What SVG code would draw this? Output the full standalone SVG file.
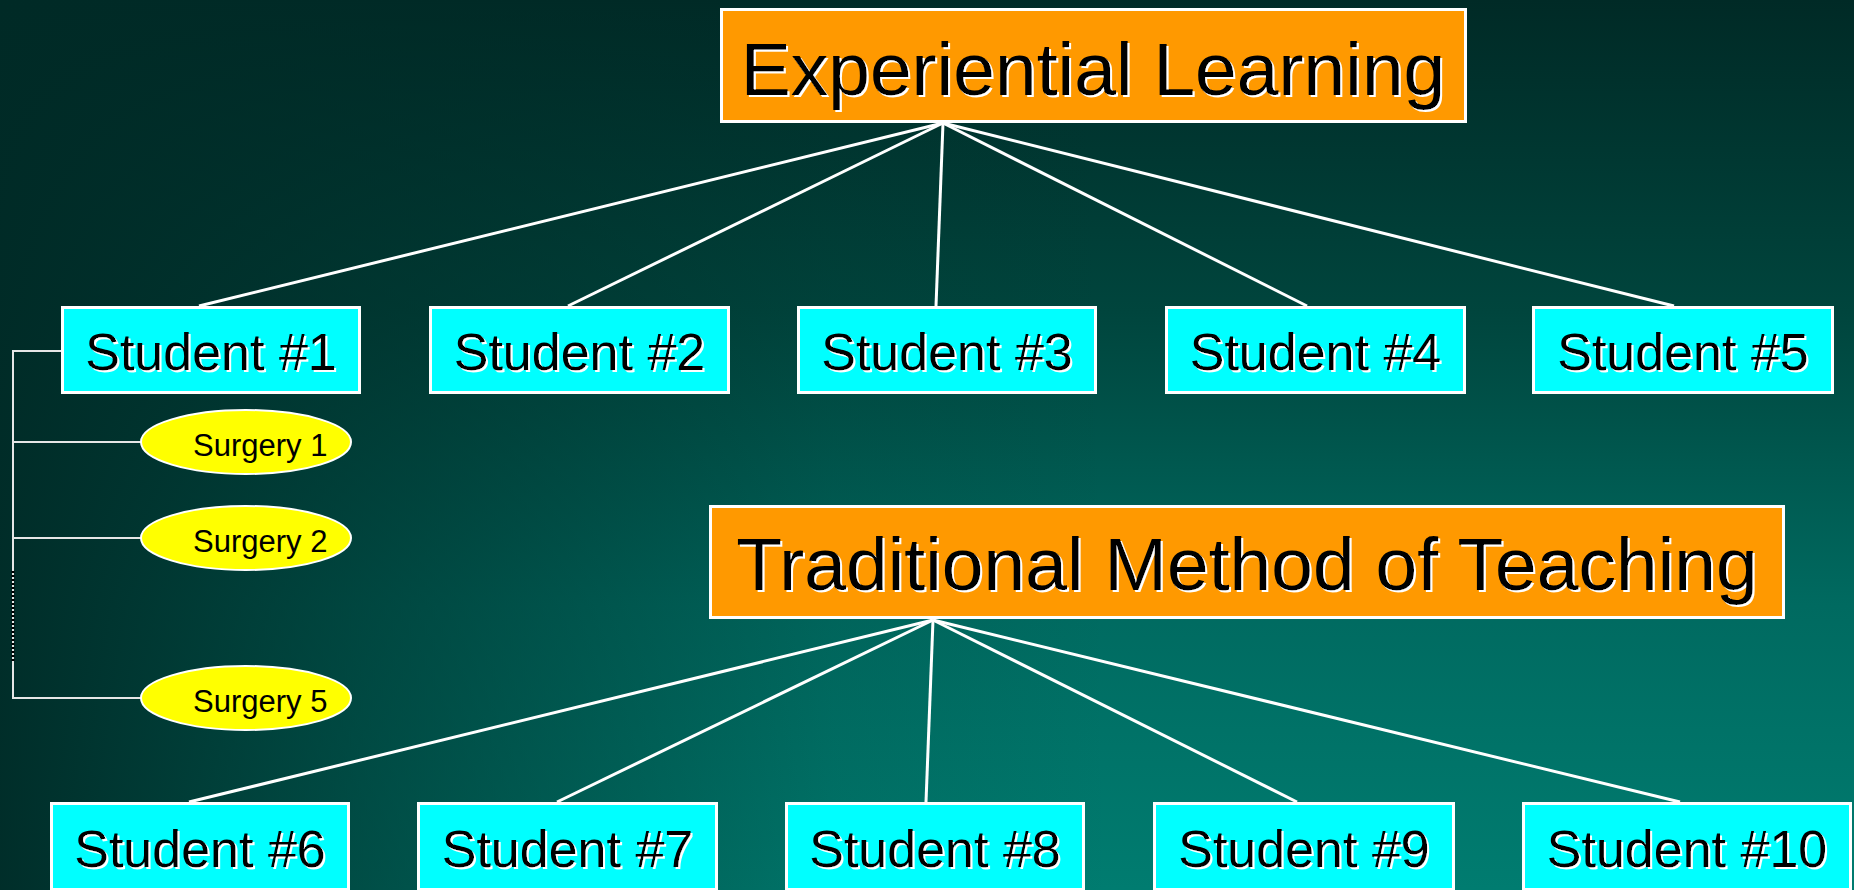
<svg xmlns="http://www.w3.org/2000/svg" width="1854" height="890" viewBox="0 0 1854 890">
  <defs>
    <linearGradient id="bgV" x1="0" y1="0" x2="0" y2="1">
      <stop offset="0" stop-color="#002a26"/>
      <stop offset="0.35" stop-color="#00453d"/>
      <stop offset="0.68" stop-color="#006a60"/>
      <stop offset="1" stop-color="#007c70"/>
    </linearGradient>
    <linearGradient id="bgH" x1="0" y1="0" x2="1" y2="0">
      <stop offset="0" stop-color="#002a26" stop-opacity="0.95"/>
      <stop offset="0.2" stop-color="#002a26" stop-opacity="0.55"/>
      <stop offset="0.45" stop-color="#002a26" stop-opacity="0.1"/>
      <stop offset="0.6" stop-color="#002a26" stop-opacity="0"/>
    </linearGradient>
    <filter id="shadow" x="-5%" y="-20%" width="110%" height="140%">
      <feDropShadow dx="2" dy="2" stdDeviation="0" flood-color="#ffffff" flood-opacity="1"/>
    </filter>
  </defs>
  <style>
    .title { fill: #ff9900; stroke: #ffffff; stroke-width: 3; }
    .student { fill: #00ffff; stroke: #ffffff; stroke-width: 3; }
    .surgery { fill: #ffff00; stroke: #ffffff; stroke-width: 2; }
    .big { font-family: "Liberation Sans", Arial, sans-serif; font-size: 75px; fill: #000000; text-anchor: middle; filter: url(#shadow); }
    .lbl { font-family: "Liberation Sans", Arial, sans-serif; font-size: 52px; fill: #000000; text-anchor: middle; filter: url(#shadow); }
    .small { font-family: "Liberation Sans", Arial, sans-serif; font-size: 31px; fill: #000000; }
    .link { stroke: #ffffff; stroke-width: 3; fill: none; }
    .branch { stroke: #e6e6e6; stroke-width: 2; fill: none; }
  </style>

  <!-- background -->
  <rect x="0" y="0" width="1854" height="890" fill="url(#bgV)"/>
  <rect x="0" y="0" width="1854" height="890" fill="url(#bgH)"/>

  <!-- connectors -->
  <g id="connectors">
    <line class="link" x1="943" y1="123" x2="199" y2="306"/>
    <line class="link" x1="943" y1="123" x2="568" y2="306"/>
    <line class="link" x1="943" y1="123" x2="936" y2="306"/>
    <line class="link" x1="943" y1="123" x2="1307" y2="306"/>
    <line class="link" x1="943" y1="123" x2="1674" y2="306"/>

    <line class="link" x1="933" y1="620" x2="189" y2="802"/>
    <line class="link" x1="933" y1="620" x2="557" y2="802"/>
    <line class="link" x1="933" y1="620" x2="926" y2="802"/>
    <line class="link" x1="933" y1="620" x2="1297" y2="802"/>
    <line class="link" x1="933" y1="620" x2="1680" y2="802"/>

    <polyline class="branch" points="61,351 13,351 13,698 141,698"/>
    <line class="branch" x1="13" y1="442" x2="141" y2="442"/>
    <line class="branch" x1="13" y1="538" x2="141" y2="538"/>
    <line x1="13" y1="571" x2="13" y2="662" stroke="#000000" stroke-width="3" stroke-dasharray="2 2"/>
  </g>

  <!-- headings -->
  <g id="experiential">
    <rect class="title" x="721.5" y="9.5" width="744" height="112"/>
    <text class="big" x="1093" y="95">Experiential Learning</text>
  </g>
  <g id="traditional">
    <rect class="title" x="710.5" y="506.5" width="1073" height="111"/>
    <text class="big" x="1247" y="590" font-size="74.5">Traditional Method of Teaching</text>
  </g>

  <!-- first row of students -->
  <g id="student1">
    <rect class="student" x="62.5" y="307.5" width="297" height="85"/>
    <text class="lbl" x="211" y="370">Student #1</text>
  </g>
  <g id="student2">
    <rect class="student" x="430.5" y="307.5" width="298" height="85"/>
    <text class="lbl" x="579.5" y="370">Student #2</text>
  </g>
  <g id="student3">
    <rect class="student" x="798.5" y="307.5" width="297" height="85"/>
    <text class="lbl" x="947" y="370">Student #3</text>
  </g>
  <g id="student4">
    <rect class="student" x="1166.5" y="307.5" width="298" height="85"/>
    <text class="lbl" x="1315.5" y="370">Student #4</text>
  </g>
  <g id="student5">
    <rect class="student" x="1533.5" y="307.5" width="299" height="85"/>
    <text class="lbl" x="1683" y="370">Student #5</text>
  </g>

  <!-- surgeries of student 1 -->
  <g id="surgery1">
    <ellipse class="surgery" cx="246" cy="442" rx="105" ry="32"/>
    <text class="small" x="193" y="456">Surgery 1</text>
  </g>
  <g id="surgery2">
    <ellipse class="surgery" cx="246" cy="538" rx="105" ry="32"/>
    <text class="small" x="193" y="552">Surgery 2</text>
  </g>
  <g id="surgery5">
    <ellipse class="surgery" cx="246" cy="698" rx="105" ry="32"/>
    <text class="small" x="193" y="712">Surgery 5</text>
  </g>

  <!-- second row of students -->
  <g id="student6">
    <rect class="student" x="51.5" y="803.5" width="297" height="86"/>
    <text class="lbl" x="200" y="867">Student #6</text>
  </g>
  <g id="student7">
    <rect class="student" x="418.5" y="803.5" width="298" height="86"/>
    <text class="lbl" x="567.5" y="867">Student #7</text>
  </g>
  <g id="student8">
    <rect class="student" x="786.5" y="803.5" width="297" height="86"/>
    <text class="lbl" x="935" y="867">Student #8</text>
  </g>
  <g id="student9">
    <rect class="student" x="1154.5" y="803.5" width="299" height="86"/>
    <text class="lbl" x="1304" y="867">Student #9</text>
  </g>
  <g id="student10">
    <rect class="student" x="1523.5" y="803.5" width="327" height="86"/>
    <text class="lbl" x="1687" y="867">Student #10</text>
  </g>
</svg>
